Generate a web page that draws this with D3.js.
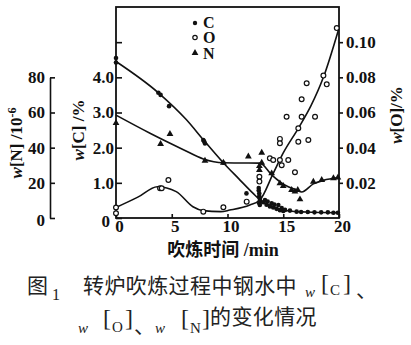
<!DOCTYPE html>
<html>
<head>
<meta charset="utf-8">
<script src="https://cdn.jsdelivr.net/npm/d3@7"></script>
<style>
  body { margin: 0; background: #fff; }
  svg { display: block; }
  .ax text { font-family: "Liberation Serif", "Times New Roman", serif; font-weight: bold; font-size: 17px; fill: #111; }
  .ax line, .ax path { stroke: #111; stroke-width: 1.6; }
  .serif { font-family: "Liberation Serif", "Times New Roman", serif; }
  .cjk { font-family: "Noto Sans CJK SC", sans-serif; }
</style>
</head>
<body>
<svg id="chart" width="411" height="345"></svg>
<script>
// Blowing time ticks (min) and the three value axes
const minuteTicks = [0, 5, 10, 15, 20];
const carbonTicks = [0, 1, 2, 3, 4, 5];
const oxygenTicks = [0.02, 0.04, 0.06, 0.08, 0.10];
const nitrogenTicks = [0, 20, 40, 60, 80];

// Measured samples: [time/min, value]
const carbonSamples = [
  [0, 4.55], [0, 4.42], [3.8, 3.56], [4.0, 3.50], [4.76, 3.18],
  [7.83, 2.22], [7.9, 2.18], [7.98, 2.12], [9.63, 1.57], [11.7, 0.70],
  [12.8, 0.85], [12.8, 0.78], [12.85, 0.70], [12.85, 0.62], [12.9, 0.55],
  [12.9, 0.48], [12.85, 0.42], [12.9, 0.37],
  [13.2, 0.45], [13.36, 0.51], [13.5, 0.38], [13.6, 0.47], [13.8, 0.33],
  [13.96, 0.42], [14.1, 0.30], [14.2, 0.38], [14.4, 0.26], [14.56, 0.37],
  [14.7, 0.22], [14.86, 0.28], [15.0, 0.20], [15.16, 0.23], [15.6, 0.21],
  [16.2, 0.18], [16.6, 0.17], [17.2, 0.17], [17.8, 0.16], [18.4, 0.16],
  [19.0, 0.16], [19.5, 0.15], [19.9, 0.15]
];
const oxygenSamples = [
  [0, 0.0060], [0, 0.0027], [3.95, 0.0169], [4.1, 0.0169], [4.7, 0.0216],
  [7.83, 0.0036], [9.63, 0.0061], [11.72, 0.0093], [12.86, 0.0235], [12.86, 0.0207],
  [13.8, 0.034], [14.1, 0.033], [14.7, 0.033], [14.86, 0.030], [15.45, 0.033],
  [16.05, 0.026], [14.7, 0.045], [14.7, 0.0425], [16.35, 0.0434], [17.25, 0.0444],
  [16.35, 0.051], [15.3, 0.0576], [16.65, 0.0576], [17.85, 0.0576], [16.65, 0.0675],
  [17.1, 0.0766], [18.6, 0.081], [18.9, 0.076], [19.8, 0.108]
];
const nitrogenSamples = [
  [0, 54], [4.0, 42.1], [4.84, 47.8], [7.98, 32.6], [9.63, 31.4],
  [11.87, 35.0], [13.07, 37.1], [12.86, 27.3], [12.86, 29.5], [13.07, 31.4],
  [13.96, 25.4], [14.7, 19.7], [15.0, 18.2], [15.75, 15.9], [16.05, 15.0],
  [16.3, 15.9], [16.5, 10.6], [17.7, 20.6], [18.45, 21.6], [19.5, 22.6], [19.9, 23.0]
];

// Fitted trend lines
const carbonTrend = [
  [0, 4.45], [3.8, 3.56], [6.3, 2.8], [7.9, 2.2], [9.6, 1.58], [11, 1.12],
  [12.3, 0.7], [12.9, 0.52], [13.5, 0.4], [14.5, 0.27], [15.5, 0.2], [17, 0.17], [20, 0.15]
];
const oxygenTrend = [
  [0, 0.006], [2, 0.012], [3.7, 0.0178], [5.4, 0.015], [6.9, 0.0064], [7.8, 0.0042],
  [9.4, 0.0036], [10.2, 0.0045], [12, 0.0074], [12.9, 0.0102], [14.1, 0.0254],
  [15, 0.037], [16.35, 0.051], [17.5, 0.064], [18.6, 0.08], [19.95, 0.107]
];
const nitrogenTrend = [
  [0, 58.5], [3.05, 48.2], [6, 39], [7.83, 33.6], [9.6, 31.4], [11, 31.3],
  [12.9, 31.2], [13.96, 24.5], [14.7, 20.6], [15.45, 17.8], [16.2, 15.9],
  [16.65, 14.8], [17.7, 19.4], [18.6, 21.4], [19.95, 23.0]
];

const svg = d3.select("#chart");

const x = d3.scaleLinear().domain([0, 20]).range([116, 339]);
const yC = d3.scaleLinear().domain([0, 6]).range([218, 7]);
const yO = d3.scaleLinear().domain([0, 0.12]).range([218, 7]);
const yN = d3.scaleLinear().domain([0, 120]).range([218, 7]);
const yNaxis = d3.scaleLinear().domain([0, 80]).range([yN(0), yN(80)]);

// Plot frame
svg.append("rect")
  .attr("x", x(0)).attr("y", yC(6))
  .attr("width", x(20) - x(0)).attr("height", yC(0) - yC(6))
  .attr("fill", "none").attr("stroke", "#111").attr("stroke-width", 1.8);

// Time axis
const gx = svg.append("g").attr("class", "ax")
  .attr("transform", `translate(0,${yC(0)})`)
  .call(d3.axisBottom(x).tickValues(minuteTicks).tickSizeInner(-4).tickSizeOuter(0).tickPadding(2));
gx.select(".domain").remove();
gx.selectAll("text").attr("dx", 3);

// Carbon axis (left)
const gc = svg.append("g").attr("class", "ax")
  .attr("transform", `translate(${x(0)},0)`)
  .call(d3.axisLeft(yC).tickValues(carbonTicks).tickSizeInner(-6).tickSizeOuter(0).tickPadding(2)
    .tickFormat(d => d === 0 ? "0" : d === 5 ? "" : d.toFixed(1)));
gc.select(".domain").remove();
gc.selectAll(".tick").filter(d => d === 0).select("text").attr("dx", -4).attr("dy", "0.5em");

// Nitrogen axis (far left)
const gn = svg.append("g").attr("class", "ax")
  .attr("transform", "translate(50,0)")
  .call(d3.axisLeft(yNaxis).tickValues(nitrogenTicks).tickSizeInner(-5).tickSizeOuter(0).tickPadding(5));
gn.selectAll(".tick").filter(d => d === 0).select("text").attr("dy", "0.45em");

// Oxygen axis (right)
const go = svg.append("g").attr("class", "ax")
  .attr("transform", `translate(${x(20)},0)`)
  .call(d3.axisRight(yO).tickValues(oxygenTicks).tickSizeInner(4).tickSizeOuter(0).tickPadding(3)
    .tickFormat(d3.format(".2f")));
go.select(".domain").remove();

// Trend lines
const lineOf = (yScale) => d3.line().x(d => x(d[0])).y(d => yScale(d[1])).curve(d3.curveMonotoneX);
[[carbonTrend, yC], [oxygenTrend, yO], [nitrogenTrend, yN]].forEach(([data, ys]) => {
  svg.append("path").datum(data).attr("d", lineOf(ys))
    .attr("fill", "none").attr("stroke", "#111").attr("stroke-width", 1.6);
});

// Sample markers
const tri = d3.symbol().type(d3.symbolTriangle).size(20);
svg.append("g").selectAll("path").data(nitrogenSamples).join("path")
  .attr("d", tri).attr("transform", d => `translate(${x(d[0])},${yN(d[1])})`).attr("fill", "#111");
svg.append("g").selectAll("circle").data(oxygenSamples).join("circle")
  .attr("cx", d => x(d[0])).attr("cy", d => yO(d[1])).attr("r", 2.4)
  .attr("fill", "#fff").attr("stroke", "#111").attr("stroke-width", 1.2);
svg.append("g").selectAll("circle").data(carbonSamples).join("circle")
  .attr("cx", d => x(d[0])).attr("cy", d => yC(d[1])).attr("r", 2.3).attr("fill", "#111");

// Legend
const legend = svg.append("g");
legend.append("circle").attr("cx", 195).attr("cy", 23).attr("r", 2.2).attr("fill", "#111");
legend.append("circle").attr("cx", 195).attr("cy", 37.5).attr("r", 2.2)
  .attr("fill", "#fff").attr("stroke", "#111").attr("stroke-width", 1.2);
legend.append("path").attr("d", tri).attr("transform", "translate(195,53)").attr("fill", "#111");
[["C", 22.5], ["O", 37.5], ["N", 53.5]].forEach(([t, yy]) => {
  legend.append("text").attr("class", "serif").attr("x", 203).attr("y", yy).attr("dy", "0.35em")
    .attr("font-size", 16).attr("font-weight", "bold").attr("fill", "#111").text(t);
});

// Axis titles
function vTitle(cx, cy, parts) {
  const t = svg.append("text").attr("class", "serif")
    .attr("transform", `translate(${cx},${cy}) rotate(-90)`)
    .attr("text-anchor", "middle").attr("font-size", 17).attr("font-weight", "bold").attr("fill", "#111");
  parts.forEach(p => {
    const s = t.append("tspan").text(p.t);
    if (p.i) s.attr("font-style", "italic");
    if (p.dy) s.attr("dy", p.dy);
    if (p.fs) s.attr("font-size", p.fs);
  });
}
vTitle(22, 143, [{t: "w", i: 1}, {t: "[N] /10"}, {t: "-6", dy: -6, fs: 12}]);
vTitle(84, 130, [{t: "w", i: 1}, {t: "[C] /%"}]);
vTitle(402, 115, [{t: "w", i: 1}, {t: "[O]/%"}]);

svg.append("text").attr("x", 223).attr("y", 255.5).attr("text-anchor", "middle")
  .attr("font-size", 18).attr("font-weight", "bold").attr("fill", "#111")
  .call(t => {
    t.append("tspan").attr("class", "cjk").text("吹炼时间");
    t.append("tspan").attr("class", "serif").text(" /min");
  });

// Figure caption
const cap = svg.append("g").attr("fill", "#222");
function put(txt, xx, yy, cls, fs, opts = {}) {
  const e = cap.append("text").attr("class", cls).attr("x", xx).attr("y", yy)
    .attr("font-size", fs).text(txt);
  if (opts.italic) e.attr("font-style", "italic");
  if (opts.ls) e.attr("letter-spacing", opts.ls);
  return e;
}
put("图", 27, 293, "cjk", 21);
put("1", 52, 300, "serif", 16);
put("转炉吹炼过程中钢水中", 83, 293, "cjk", 21, {ls: 0.4});
put("w", 305, 297, "serif", 15, {italic: 1});
put("[", 321, 291, "serif", 24);
put("C", 330, 295, "serif", 15);
put("]", 343, 291, "serif", 24);
put("、", 356, 297, "cjk", 21);

put("w", 78, 333, "serif", 15, {italic: 1});
put("[", 103, 326, "serif", 24);
put("O", 112, 332, "serif", 15);
put("]", 125, 326, "serif", 24);
put("、", 134, 333, "cjk", 21);
put("w", 155, 333, "serif", 15, {italic: 1});
put("[", 181, 326, "serif", 24);
put("N", 190, 333, "serif", 15);
put("]", 202, 326, "serif", 24);
put("的变化情况", 210, 324, "cjk", 21, {ls: 0.4});
</script>
</body>
</html>
